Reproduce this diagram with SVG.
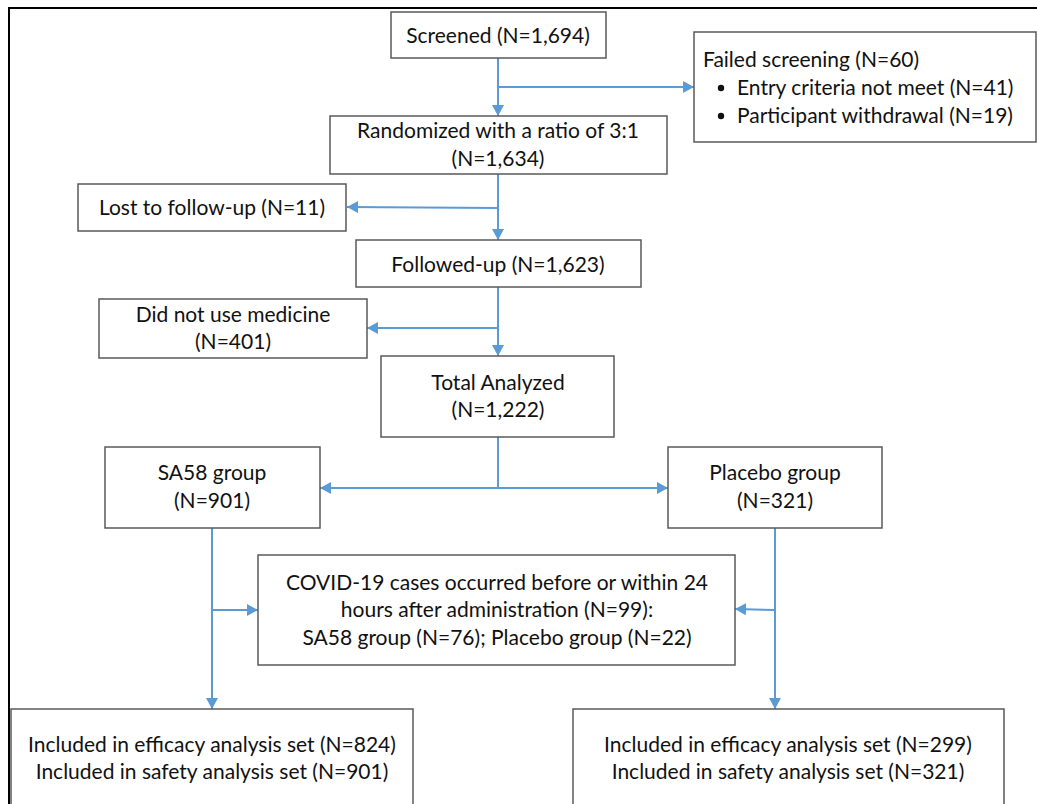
<svg xmlns="http://www.w3.org/2000/svg" width="1037" height="804" viewBox="0 0 1037 804">
<defs>
<marker id="ah" markerUnits="userSpaceOnUse" markerWidth="12" markerHeight="12" refX="11" refY="6" orient="auto">
<path d="M0,0 L11,6 L0,12 Z" fill="#5B9BD5"/>
</marker>
<style>
.box{fill:#fff;stroke:#595959;stroke-width:1.5}
.t{font-family:Lato,"Liberation Sans",sans-serif;font-size:21px;fill:#111;text-anchor:middle}
.tl{font-family:Lato,"Liberation Sans",sans-serif;font-size:21px;fill:#111;text-anchor:start}
.c{stroke:#5B9BD5;stroke-width:2;fill:none}
.ca{stroke:#5B9BD5;stroke-width:2;fill:none;marker-end:url(#ah)}
</style>
</defs>
<rect width="1037" height="804" fill="#fff"/>
<g id="frame">
<line x1="8" y1="8" x2="1037" y2="8" stroke="#000" stroke-width="2"/>
<line x1="9" y1="7" x2="9" y2="804" stroke="#000" stroke-width="2"/>
</g>
<g id="connectors">
<line class="ca" x1="498" y1="58" x2="498" y2="116"/>
<line class="ca" x1="498" y1="87" x2="694" y2="87"/>
<line class="ca" x1="498" y1="174" x2="498" y2="240"/>
<line class="ca" x1="498" y1="208" x2="347" y2="207"/>
<line class="ca" x1="498" y1="287" x2="498" y2="356"/>
<line class="ca" x1="498" y1="328" x2="367" y2="328"/>
<line class="c" x1="498" y1="437" x2="498" y2="488"/>
<line class="ca" x1="498" y1="488" x2="320" y2="488"/>
<line class="ca" x1="498" y1="488" x2="668" y2="488"/>
<line class="ca" x1="212" y1="528" x2="212" y2="709"/>
<line class="ca" x1="212" y1="610" x2="258" y2="610"/>
<line class="ca" x1="775" y1="528" x2="775" y2="709"/>
<line class="ca" x1="775" y1="610" x2="735" y2="609"/>
</g>
<g id="screened">
<rect class="box" x="391" y="12" width="215" height="46"/>
<text class="t" x="498" y="43">Screened (N=1,694)</text>
</g>
<g id="failed">
<rect class="box" x="694" y="32" width="342" height="110"/>
<text class="tl" x="703" y="67">Failed screening (N=60)</text>
<circle cx="721" cy="88" r="3.2" fill="#111"/>
<text class="tl" x="737" y="95">Entry criteria not meet (N=41)</text>
<circle cx="721" cy="116" r="3.2" fill="#111"/>
<text class="tl" x="737" y="123">Participant withdrawal (N=19)</text>
</g>
<g id="randomized">
<rect class="box" x="330" y="116" width="337" height="58"/>
<text class="t" x="498" y="138">Randomized with a ratio of 3:1</text>
<text class="t" x="498" y="166">(N=1,634)</text>
</g>
<g id="lost">
<rect class="box" x="78" y="184" width="268" height="47"/>
<text class="t" x="212" y="215">Lost to follow-up (N=11)</text>
</g>
<g id="followed">
<rect class="box" x="356" y="240" width="285" height="47"/>
<text class="t" x="498" y="272">Followed-up (N=1,623)</text>
</g>
<g id="notused">
<rect class="box" x="99" y="299" width="268" height="59"/>
<text class="t" x="233" y="322">Did not use medicine</text>
<text class="t" x="233" y="349">(N=401)</text>
</g>
<g id="total">
<rect class="box" x="381" y="356" width="233" height="81"/>
<text class="t" x="498" y="390">Total Analyzed</text>
<text class="t" x="498" y="417">(N=1,222)</text>
</g>
<g id="sa58">
<rect class="box" x="105" y="447" width="215" height="81"/>
<text class="t" x="212" y="480">SA58 group</text>
<text class="t" x="212" y="508">(N=901)</text>
</g>
<g id="placebo">
<rect class="box" x="668" y="447" width="214" height="81"/>
<text class="t" x="775" y="480">Placebo group</text>
<text class="t" x="775" y="508">(N=321)</text>
</g>
<g id="covid">
<rect class="box" x="258" y="555" width="477" height="110"/>
<text class="t" x="497" y="590">COVID-19 cases occurred before or within 24</text>
<text class="t" x="497" y="617">hours after administration (N=99):</text>
<text class="t" x="497" y="645">SA58 group (N=76); Placebo group (N=22)</text>
</g>
<g id="sa58final">
<rect class="box" x="11" y="709" width="402" height="110"/>
<text class="t" x="212" y="752">Included in efficacy analysis set (N=824)</text>
<text class="t" x="212" y="779">Included in safety analysis set (N=901)</text>
</g>
<g id="placebofinal">
<rect class="box" x="573" y="709" width="431" height="110"/>
<text class="t" x="788" y="752">Included in efficacy analysis set (N=299)</text>
<text class="t" x="788" y="779">Included in safety analysis set (N=321)</text>
</g>
</svg>
